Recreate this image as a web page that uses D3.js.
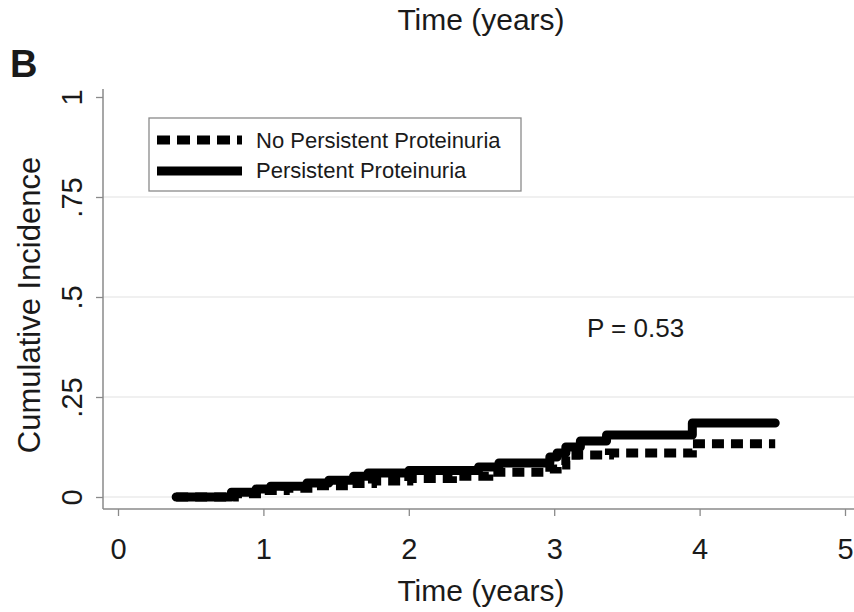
<!DOCTYPE html>
<html>
<head>
<meta charset="utf-8">
<script src="https://cdn.jsdelivr.net/npm/d3@7"></script>
<style>
  body { margin: 0; background: #fff; }
  text { font-family: "Liberation Sans", Arial, Helvetica, sans-serif; fill: #1a1a1a; }
</style>
</head>
<body>
<svg id="chart" width="854" height="612"></svg>
<script>
// ---- Data ----
const xTicks = [0, 1, 2, 3, 4, 5];
const yTicks = [0, 0.25, 0.5, 0.75, 1];
const yTickLabels = ["0", ".25", ".5", ".75", "1"];
const seriesNames = ["No Persistent Proteinuria", "Persistent Proteinuria"];

const persistTimes  = [0.40, 0.78, 0.95, 1.05, 1.30, 1.45, 1.62, 1.72, 2.00, 2.48, 2.62, 2.97, 3.02, 3.08, 3.18, 3.36, 3.95, 4.52];
const persistValues = [0, 0.012, 0.020, 0.027, 0.035, 0.042, 0.052, 0.060, 0.066, 0.075, 0.085, 0.100, 0.110, 0.125, 0.140, 0.155, 0.185, 0.185];

const noPersistTimes  = [0.40, 0.80, 1.00, 1.15, 1.35, 1.55, 1.75, 2.00, 2.30, 2.55, 2.97, 3.02, 3.08, 3.15, 3.38, 3.95, 4.52];
const noPersistValues = [0, 0.008, 0.016, 0.022, 0.028, 0.034, 0.040, 0.046, 0.052, 0.062, 0.070, 0.080, 0.090, 0.105, 0.110, 0.133, 0.133];

const pValueText = "P = 0.53";

// ---- Scales ----
const svg = d3.select("#chart");
const x = d3.scaleLinear().domain([0, 5]).range([118, 845]);
const y = d3.scaleLinear().domain([0, 1]).range([497, 97]);
const plotLeft = 103, plotRight = 854, plotBottom = 509;

// top leftover title from panel A
svg.append("text").attr("x", 481).attr("y", 30).attr("text-anchor", "middle")
  .style("font-size", "30px").text("Time (years)");
// panel letter
svg.append("text").attr("x", 10).attr("y", 77)
  .style("font-size", "38px").style("font-weight", "bold").text("B");

// gridlines
svg.append("g").selectAll("line").data(yTicks.filter(d => d < 1)).join("line")
  .attr("x1", plotLeft).attr("x2", plotRight)
  .attr("y1", d => y(d)).attr("y2", d => y(d))
  .attr("stroke", "#ebebeb").attr("stroke-width", 1.5);

// y axis
const yAxis = d3.axisLeft(y).tickValues(yTicks).tickSize(7).tickFormat((d, i) => yTickLabels[i]);
const gy = svg.append("g").attr("transform", `translate(${plotLeft},0)`).call(yAxis);
gy.select(".domain").attr("stroke", "#8a8a8a").attr("stroke-width", 1.5)
  .attr("d", `M0,${y(1) - 8}V${plotBottom}`);
gy.selectAll(".tick line").attr("stroke", "#8a8a8a").attr("stroke-width", 1.3);
gy.selectAll(".tick text")
  .attr("x", 0).attr("dy", 0)
  .attr("transform", `translate(-21,0) rotate(-90)`)
  .attr("text-anchor", "middle")
  .style("font-size", "29px").style("fill", "#1a1a1a");

// x axis
const xAxis = d3.axisBottom(x).tickValues(xTicks).tickSize(7).tickFormat(d3.format("d"));
const gx = svg.append("g").attr("transform", `translate(0,${plotBottom})`).call(xAxis);
gx.select(".domain").attr("stroke", "#8a8a8a").attr("stroke-width", 1.5)
  .attr("d", `M${plotLeft},0H${plotRight}`);
gx.selectAll(".tick line").attr("stroke", "#8a8a8a").attr("stroke-width", 1.3);
gx.selectAll(".tick text").attr("y", 29).attr("dy", "0.71em")
  .style("font-size", "29px").style("fill", "#1a1a1a");

// axis titles
svg.append("text").attr("transform", `translate(40,305) rotate(-90)`)
  .attr("text-anchor", "middle").style("font-size", "31px").text("Cumulative Incidence");
svg.append("text").attr("x", 481).attr("y", 601).attr("text-anchor", "middle")
  .style("font-size", "30px").text("Time (years)");

// curves
const line = d3.line().x(d => x(d[0])).y(d => y(d[1])).curve(d3.curveStepAfter);
const noPersist = noPersistTimes.map((t, i) => [t, noPersistValues[i]]);
const persist = persistTimes.map((t, i) => [t, persistValues[i]]);

svg.append("path").datum(noPersist).attr("d", line)
  .attr("fill", "none").attr("stroke", "#000").attr("stroke-width", 9)
  .attr("stroke-dasharray", "12,7");
svg.append("path").datum(persist).attr("d", line)
  .attr("fill", "none").attr("stroke", "#000").attr("stroke-width", 9)
  .attr("stroke-linecap", "round").attr("stroke-linejoin", "round");

// legend
const lg = svg.append("g");
lg.append("rect").attr("x", 149).attr("y", 118).attr("width", 372).attr("height", 73)
  .attr("fill", "#fff").attr("stroke", "#8a8a8a").attr("stroke-width", 1.3);
const legendRows = [
  { name: seriesNames[0], dash: "13,7", yy: 140, base: 148 },
  { name: seriesNames[1], dash: null, yy: 171, base: 178 }
];
legendRows.forEach(r => {
  const l = lg.append("line").attr("x1", 157).attr("x2", 242).attr("y1", r.yy).attr("y2", r.yy)
    .attr("stroke", "#000").attr("stroke-width", 9);
  if (r.dash) l.attr("stroke-dasharray", r.dash);
  lg.append("text").attr("x", 256).attr("y", r.base)
    .style("font-size", "22px").text(r.name);
});

// p-value
svg.append("text").attr("x", 587).attr("y", 337).style("font-size", "26px").text(pValueText);
</script>
</body>
</html>
